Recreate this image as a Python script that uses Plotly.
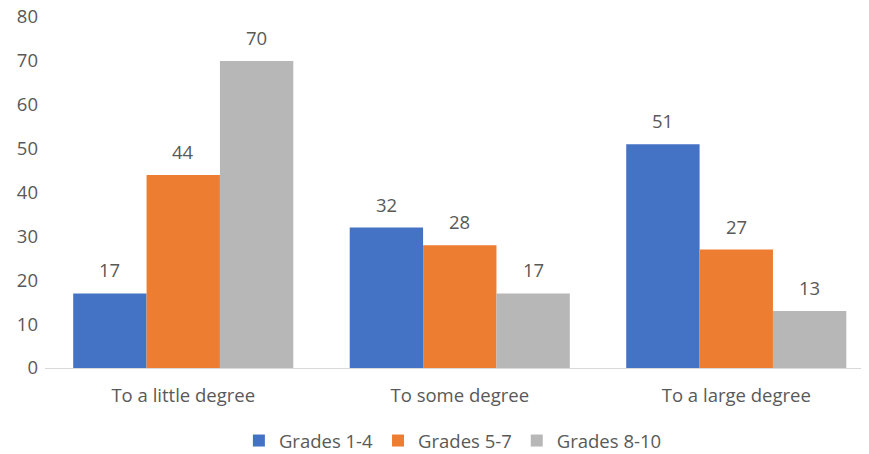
import plotly.graph_objects as go

categories = ["To a little degree", "To some degree", "To a large degree"]
series_names = ["Grades 1-4", "Grades 5-7", "Grades 8-10"]
grades_1_4 = [17, 32, 51]
grades_5_7 = [44, 28, 27]
grades_8_10 = [70, 17, 13]
colors = ["#4472C4", "#ED7D31", "#B7B7B7"]

values = [grades_1_4, grades_5_7, grades_8_10]
FONT = "Open Sans"
FS = 18.5
TXT = "#595959"

fig = go.Figure()
for name, vals, col in zip(series_names, values, colors):
    fig.add_trace(go.Bar(x=categories, y=vals, name=name, marker_color=col,
                         marker_line_width=0))

# page body has an 8px margin, so the figure is shifted by 8px
W, H = 861, 446
ml, mr, mt, mb = 37, 0, 9, 86
plot_w = W - ml - mr
plot_h = H - mt - mb
x_range = [-0.5, 2.48]
bargap = 0.204
cat_w = plot_w / (x_range[1] - x_range[0])
bar_w = cat_w * (1 - bargap) / len(series_names)

annotations = []
for i, vals in enumerate(values):
    for c, v in zip(categories, vals):
        annotations.append(dict(x=c, y=v, text=str(v), showarrow=False,
                                xshift=(i - 1) * bar_w, yanchor="bottom", yshift=9,
                                font=dict(family=FONT, size=FS, color=TXT)))

fig.update_layout(
    width=W, height=H,
    margin=dict(l=ml, r=mr, t=mt, b=mb, autoexpand=False),
    barmode="group", bargap=bargap, bargroupgap=0,
    plot_bgcolor="white", paper_bgcolor="white",
    font=dict(family=FONT, size=FS, color=TXT),
    annotations=annotations,
    legend=dict(orientation="h", x=0.495, xanchor="center",
                yref="container", y=(H - 433) / H, yanchor="middle",
                font=dict(family=FONT, size=FS, color=TXT), traceorder="normal",
                itemwidth=30),
    yaxis=dict(range=[0, 80], dtick=10, showgrid=False, zeroline=False,
               showline=False, ticks="", automargin=False, ticklabelstandoff=6,
               ticklabeloverflow="allow", tickfont=dict(size=FS, color=TXT)),
    xaxis=dict(range=x_range, showline=True, linecolor="#D9D9D9", linewidth=1,
               ticks="", automargin=False, ticklabelstandoff=11,
               tickfont=dict(size=FS, color=TXT)),
)
fig.write_html("out.html")
